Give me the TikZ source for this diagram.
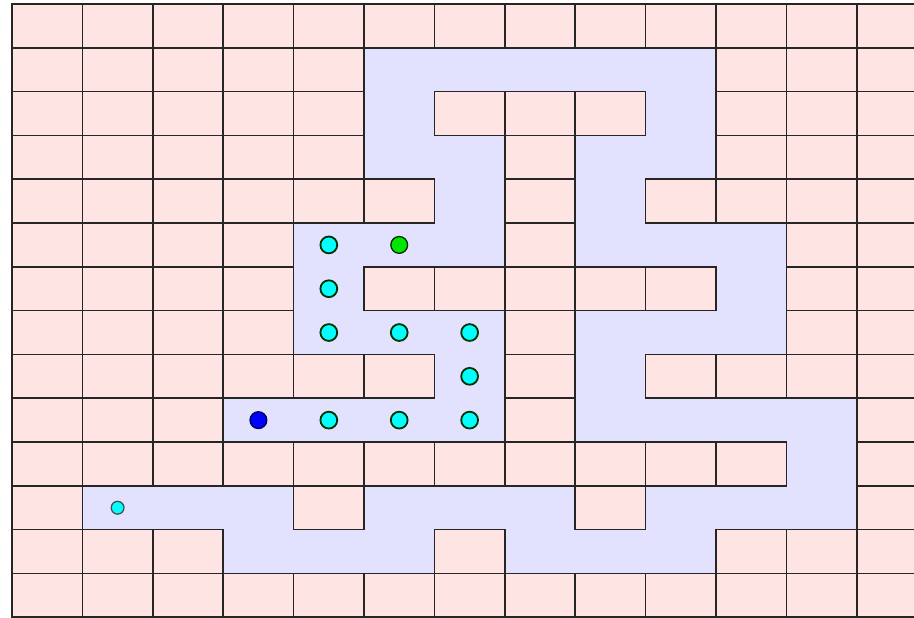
\documentclass[tikz,border=0pt]{standalone}
\usepackage{tikz}
\usetikzlibrary{positioning}
\definecolor{wallpink}{RGB}{255,228,228}
\definecolor{freeblue}{RGB}{226,226,255}
\definecolor{visitcyan}{RGB}{0,255,255}
\definecolor{goalgreen}{RGB}{0,230,0}
\definecolor{agentblue}{RGB}{0,0,255}

\begin{document}
\begin{tikzpicture}[x=1.76cm, y=-1.095cm,
    cell0/.style={fill=wallpink, draw=black!85, line width=1.1pt},
    cell1/.style={},
    dot/.style={circle, inner sep=0pt, minimum size=0.42cm, line width=1.3pt},
    pathdot/.style={dot, fill=visitcyan, draw=green!20!black}]
    % ---------------- page: 914 x 617 px, grid starts at (12,4) px
    \useasboundingbox (-0.1705,-0.0913) rectangle (12.812,14.0);
    \clip (-0.1705,-0.0913) rectangle (12.812,14.0);
    % ---------------- free corridors underneath
    \fill[freeblue] (0,0) rectangle (13,14);
    % ---------------- walls, one row of 13 cells per entry (1 = free)
    \foreach \bits [count=\r from 0] in {
        {0,0,0,0,0,0,0,0,0,0,0,0,0},
        {0,0,0,0,0,1,1,1,1,1,0,0,0},
        {0,0,0,0,0,1,0,0,0,1,0,0,0},
        {0,0,0,0,0,1,1,0,1,1,0,0,0},
        {0,0,0,0,0,0,1,0,1,0,0,0,0},
        {0,0,0,0,1,1,1,0,1,1,1,0,0},
        {0,0,0,0,1,0,0,0,0,0,1,0,0},
        {0,0,0,0,1,1,1,0,1,1,1,0,0},
        {0,0,0,0,0,0,1,0,1,0,0,0,0},
        {0,0,0,1,1,1,1,0,1,1,1,1,0},
        {0,0,0,0,0,0,0,0,0,0,0,1,0},
        {0,1,1,1,0,1,1,1,0,1,1,1,0},
        {0,0,0,1,1,1,0,1,1,1,0,0,0},
        {0,0,0,0,0,0,0,0,0,0,0,0,0}}
      \foreach \b [count=\c from 0] in \bits
        \path[cell\b] (\c,\r) rectangle ++(1,1);
    % ---------------- visited cells
    \node[pathdot] (v1) at (4.5,5.5) {};
    \node[pathdot] (v2) at (4.5,6.5) {};
    \node[pathdot] (v3) at (4.5,7.5) {};
    \node[pathdot] (v4) at (5.5,7.5) {};
    \node[pathdot] (v5) at (6.5,7.5) {};
    \node[pathdot] (v6) at (6.5,8.5) {};
    \node[pathdot] (v7) at (6.5,9.5) {};
    \node[pathdot] (v8) at (5.5,9.5) {};
    \node[pathdot] (v9) at (4.5,9.5) {};
    % ---------------- goal, current position, start
    \node[dot, fill=goalgreen, draw=green!15!black, line width=0.9pt] (goal) at (5.5,5.5) {};
    \node[dot, fill=agentblue, draw=blue!30!black, line width=0.9pt] (agent) at (3.5,9.5) {};
    \node[dot, fill=visitcyan, draw=black!70, line width=0.9pt, minimum size=0.32cm] (start) at (1.5,11.5) {};
\end{tikzpicture}
\end{document}
